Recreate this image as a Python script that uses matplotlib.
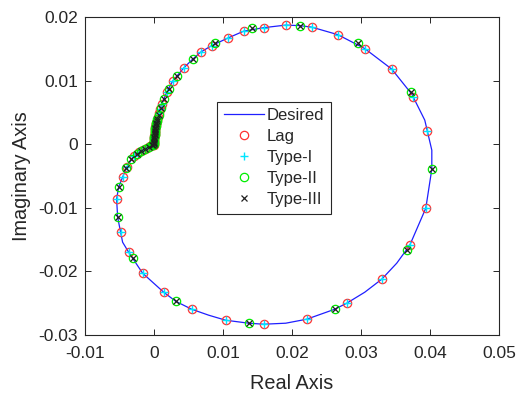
import matplotlib
matplotlib.use("Agg")
import matplotlib.pyplot as plt

plt.rcParams['font.family'] = ['Liberation Sans', 'DejaVu Sans']

# Desired frequency response (Nyquist locus)
desired_re = [0.0, 0.00003, 0.00010, 0.00025, 0.00046, 0.00075, 0.00112, 0.00155,
              0.00199, 0.00271, 0.00343, 0.00430, 0.00546, 0.00677, 0.00836, 0.01068,
              0.01300, 0.01590, 0.01909, 0.02112, 0.02286, 0.02663, 0.03054, 0.03445,
              0.03735, 0.03923, 0.04025, 0.04025, 0.03938, 0.03706, 0.03517, 0.03300,
              0.03054, 0.02793, 0.02619, 0.02213, 0.01909, 0.01590, 0.01372, 0.01039,
              0.00793, 0.00546, 0.00314, 0.00141, -0.00164, -0.00309, -0.00367, -0.00454,
              -0.00483, -0.00526, -0.00541, -0.00512, -0.00454, -0.00396, -0.00294,
              -0.00222, -0.00164, -0.00091, -0.00033, 0.0]
desired_im = [0.0, 0.00099, 0.00209, 0.00304, 0.00398, 0.00509, 0.00635, 0.00745,
              0.00855, 0.00997, 0.01091, 0.01202, 0.01328, 0.01454, 0.01556, 0.01674,
              0.01784, 0.01839, 0.01879, 0.01871, 0.01847, 0.01729, 0.01509, 0.01186,
              0.00792, 0.00383, -0.00090, -0.00389, -0.01003, -0.01586, -0.01869, -0.02121,
              -0.02326, -0.02499, -0.02594, -0.02751, -0.02814, -0.02830, -0.02814, -0.02767,
              -0.02688, -0.02594, -0.02468, -0.02326, -0.02027, -0.01791, -0.01696, -0.01539,
              -0.01381, -0.01145, -0.00861, -0.00672, -0.00515, -0.00357, -0.00184,
              -0.00121, -0.00074, -0.00035, -0.00011, 0.0]

# Lag and Type-I controllers share the same frequency samples
lag_re = [0.00000, 0.00001, 0.00002, 0.00003, 0.00004, 0.00006, 0.00008, 0.00010,
          0.00012, 0.00014, 0.00017, 0.00020, 0.00024, 0.00028, 0.00033, 0.00039,
          0.00054, 0.00072, 0.00090, 0.00112, 0.00184, 0.00271, 0.00430, 0.00677,
          0.00836, 0.01068, 0.01300, 0.01590, 0.01909, 0.02286, 0.02663, 0.03054,
          0.03445, 0.03749, 0.03952, 0.03938, 0.03706, 0.03300, 0.02793, 0.02213,
          0.01590, 0.01039, 0.00546, 0.00141, -0.00164, -0.00367, -0.00483, -0.00541,
          -0.00454, -0.00396, -0.00294, -0.00222, -0.00164, -0.00106, -0.00062, -0.00033,
          -0.00015, -0.00005]
lag_im = [0.00010, 0.00036, 0.00060, 0.00083, 0.00107, 0.00131, 0.00155, 0.00178,
          0.00202, 0.00225, 0.00249, 0.00272, 0.00296, 0.00320, 0.00343, 0.00367,
          0.00430, 0.00493, 0.00556, 0.00635, 0.00824, 0.00997, 0.01202, 0.01454,
          0.01548, 0.01674, 0.01792, 0.01831, 0.01879, 0.01847, 0.01721, 0.01501,
          0.01186, 0.00745, 0.00210, -0.01003, -0.01586, -0.02121, -0.02499, -0.02751,
          -0.02830, -0.02767, -0.02594, -0.02326, -0.02027, -0.01696, -0.01381, -0.00861,
          -0.00515, -0.00357, -0.00184, -0.00121, -0.00082, -0.00050, -0.00027, -0.00016,
          -0.00008, -0.00003]
type1_re = lag_re
type1_im = lag_im

# Type-II and Type-III controllers share the same frequency samples
type2_re = [0.0, 0.00000, 0.00001, 0.00002, 0.00004, 0.00006, 0.00009, 0.00011,
            0.00013, 0.00016, 0.00019, 0.00022, 0.00026, 0.00031, 0.00036, 0.00042,
            0.00049, 0.00068, 0.00097, 0.00141, 0.00213, 0.00329, 0.00561, 0.00880,
            0.01416, 0.02112, 0.02952, 0.03720, 0.04025, 0.03662, 0.02619, 0.01372,
            0.00314, -0.00309, -0.00526, -0.00512, -0.00410, -0.00338, -0.00251,
            -0.00193, -0.00135, -0.00077, -0.00033, -0.00010]
type2_im = [0.00005, 0.00020, 0.00045, 0.00070, 0.00099, 0.00122, 0.00146, 0.00170,
            0.00194, 0.00218, 0.00241, 0.00265, 0.00288, 0.00315, 0.00343, 0.00370,
            0.00398, 0.00469, 0.00572, 0.00713, 0.00871, 0.01076, 0.01343, 0.01595,
            0.01831, 0.01861, 0.01595, 0.00824, -0.00389, -0.01665, -0.02594, -0.02814,
            -0.02468, -0.01791, -0.01145, -0.00672, -0.00373, -0.00231, -0.00152,
            -0.00106, -0.00066, -0.00035, -0.00014, -0.00005]
type3_re = type2_re
type3_im = type2_im

x_ticks = [-0.01, 0, 0.01, 0.02, 0.03, 0.04, 0.05]
x_tick_labels = ['-0.01', '0', '0.01', '0.02', '0.03', '0.04', '0.05']
y_ticks = [-0.03, -0.02, -0.01, 0, 0.01, 0.02]
y_tick_labels = ['-0.03', '-0.02', '-0.01', '0', '0.01', '0.02']

fig = plt.figure(figsize=(5.21, 3.96), dpi=100)
ax = fig.add_axes([0.163, 0.154, 0.795, 0.802])

ax.plot(desired_re, desired_im, '-', color='#1f1fff', lw=0.9, label='Desired', zorder=2)
ax.plot(lag_re, lag_im, 'o', ls='none', mfc='none', mec='#ff3030', mew=0.9, ms=6,
        label='Lag', zorder=3)
ax.plot(type1_re, type1_im, '+', ls='none', color='#00e5ff', mew=1.0, ms=6,
        label='Type-I', zorder=4)
ax.plot(type2_re, type2_im, 'o', ls='none', mfc='none', mec='#00ee00', mew=0.9, ms=6,
        label='Type-II', zorder=5)
ax.plot(type3_re, type3_im, 'x', ls='none', color='#202020', mew=0.9, ms=4.5,
        label='Type-III', zorder=6)

ax.set_xlim(-0.01, 0.05)
ax.set_ylim(-0.03, 0.02)
ax.set_xticks(x_ticks)
ax.set_xticklabels(x_tick_labels)
ax.set_yticks(y_ticks)
ax.set_yticklabels(y_tick_labels)
ax.tick_params(direction='in', top=True, right=True, length=4, width=0.7,
               labelsize=12.5, colors='#262626', pad=5)
ax.tick_params(axis='x', pad=8)
for s in ax.spines.values():
    s.set_linewidth(0.8)
    s.set_color('#262626')

ax.set_xlabel('Real Axis', fontsize=14.3, color='#262626', labelpad=9)
ax.set_ylabel('Imaginary Axis', fontsize=14.3, color='#262626', labelpad=5)

leg = ax.legend(loc='upper left', bbox_to_anchor=(0.319, 0.735), fontsize=12,
                frameon=True, fancybox=False, edgecolor='#262626', framealpha=1,
                borderpad=0.4, labelspacing=0.36, handlelength=2.4,
                handletextpad=0.2, borderaxespad=0)
leg.get_frame().set_linewidth(0.8)
for t in leg.get_texts():
    t.set_color('#262626')

fig.savefig('out.png', dpi=100)
